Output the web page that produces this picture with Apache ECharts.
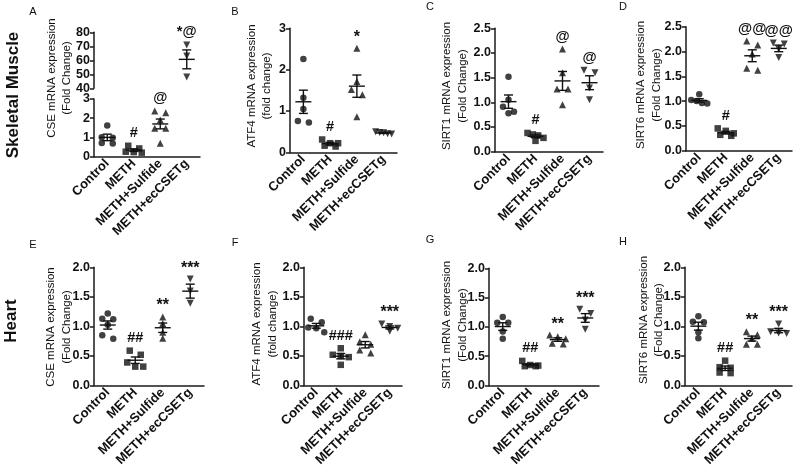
<!DOCTYPE html>
<html><head><meta charset="utf-8">
<script src="https://cdn.jsdelivr.net/npm/echarts@6/dist/echarts.min.js"></script>
<style>html,body{margin:0;padding:0;background:#fff}#c{width:797px;height:469px}</style>
</head><body><div id="c"></div>
<script>
const categories = ['Control', 'METH', 'METH+Sulfide', 'METH+ecCSETg'];

// Skeletal muscle
const A_control = [1.62, 1.0, 0.98, 0.7, 0.68];
const A_meth = [0.56, 0.42, 0.25, 0.23, 0.2];
const A_sulfide = [2.38, 2.28, 1.9, 1.47, 1.47, 0.69];
const A_eccse = [71, 63, 48];          // on the upper (40-80) segment
const A_marks = ['', '#', '@', '*@'];

const B_control = [2.26, 1.32, 1.05, 0.76, 0.72];
const B_meth = [0.31, 0.22, 0.22, 0.16, 0.14];
const B_sulfide = [2.52, 1.71, 1.52, 1.39, 0.86];
const B_eccse = [0.5, 0.48, 0.47, 0.45, 0.44];
const B_marks = ['', '#', '*', ''];

const C_control = [1.52, 1.05, 0.91, 0.81, 0.78];
const C_meth = [0.38, 0.35, 0.33, 0.28, 0.22];
const C_sulfide = [2.08, 1.6, 1.27, 1.27, 0.95];
const C_eccse = [1.65, 1.6, 1.29, 1.05];
const C_marks = ['', '#', '@', '@'];

const D_control = [1.14, 1.02, 1.0, 0.96, 0.95];
const D_meth = [0.45, 0.4, 0.35, 0.32, 0.3];
const D_sulfide = [2.21, 2.13, 1.95, 1.66, 1.62];
const D_eccse = [2.17, 2.15, 2.05, 1.88];
const D_marks = ['', '#', '@@', '@@'];

// Heart
const E_control = [1.22, 1.13, 1.12, 1.03, 0.85, 0.79];
const E_meth = [0.59, 0.52, 0.39, 0.32, 0.32];
const E_sulfide = [1.16, 1.05, 0.9, 0.8];
const E_eccse = [1.8, 1.6, 1.39];
const E_marks = ['', '##', '**', '***'];

const F_control = [1.13, 1.07, 0.98, 0.97, 0.9];
const F_meth = [0.63, 0.52, 0.5, 0.48, 0.35];
const F_sulfide = [0.86, 0.74, 0.7, 0.6, 0.55];
const F_eccse = [1.04, 1.0, 0.97, 0.92];
const F_marks = ['', '###', '', '***'];

const G_control = [1.17, 1.07, 1.07, 0.92, 0.8];
const G_meth = [0.42, 0.35, 0.34, 0.33, 0.33];
const G_sulfide = [0.86, 0.83, 0.8, 0.72, 0.71];
const G_eccse = [1.3, 1.23, 1.12, 0.96];
const G_marks = ['', '##', '**', '***'];

const H_control = [1.17, 1.08, 1.07, 0.9, 0.8];
const H_meth = [0.42, 0.31, 0.3, 0.22, 0.21];
const H_sulfide = [0.91, 0.86, 0.8, 0.7, 0.7];
const H_eccse = [1.04, 0.91, 0.89, 0.88];
const H_marks = ['', '##', '**', '***'];

// y-axis tick settings
const ticksA_low = {min: 0, max: 3, interval: 1, dec: 0};
const ticksA_up = {min: 40, max: 80, interval: 10, dec: 0};
const ticksB = {min: 0, max: 3, interval: 1, dec: 0};
const ticksCD = {min: 0, max: 2.5, interval: 0.5, dec: 1};
const ticksEH = {min: 0, max: 2, interval: 0.5, dec: 1};

const FONT = '"Liberation Sans", Arial, Helvetica, sans-serif';
const INK = '#111';

const panels = [
  {letter: 'A', groups: [A_control, A_meth, A_sulfide, null], marks: A_marks, ticks: ticksA_low,
   upper: {groups: [null, null, null, A_eccse], ticks: ticksA_up, top: 32.3, height: 56},
   box: {left: 94, width: 106, top: 99, height: 57.5},
   title: ['CSE mRNA expression', '(Fold Change)'], tpos: [59.5, 78], lpos: [33, 12]},
  {letter: 'B', groups: [B_control, B_meth, B_sulfide, B_eccse], marks: B_marks, ticks: ticksB,
   box: {left: 290, width: 107, top: 28.3, height: 124},
   title: ['ATF4 mRNA expression', '(fold change)'], tpos: [259.5, 86], lpos: [235, 12]},
  {letter: 'C', groups: [C_control, C_meth, C_sulfide, C_eccse], marks: C_marks, ticks: ticksCD,
   box: {left: 495, width: 108, top: 28.3, height: 123.4},
   title: ['SIRT1 mRNA expression', '(Fold Change)'], tpos: [455, 86], lpos: [430, 7]},
  {letter: 'D', groups: [D_control, D_meth, D_sulfide, D_eccse], marks: D_marks, ticks: ticksCD,
   box: {left: 686, width: 106, top: 26.7, height: 124},
   title: ['SIRT6 mRNA expression', '(Fold Change)'], tpos: [649, 85], lpos: [623, 7]},
  {letter: 'E', groups: [E_control, E_meth, E_sulfide, E_eccse], marks: E_marks, ticks: ticksEH,
   box: {left: 94, width: 110, top: 267.3, height: 123.4},
   title: ['CSE mRNA expression', '(Fold Change)'], tpos: [59, 327], lpos: [33, 245]},
  {letter: 'F', groups: [F_control, F_meth, F_sulfide, F_eccse], marks: F_marks, ticks: ticksEH,
   box: {left: 304, width: 98, top: 267.3, height: 123.4},
   title: ['ATF4 mRNA expression', '(fold change)'], tpos: [265, 324], lpos: [235, 243]},
  {letter: 'G', groups: [G_control, G_meth, G_sulfide, G_eccse], marks: G_marks, ticks: ticksEH,
   box: {left: 489, width: 110, top: 268.3, height: 123.4},
   title: ['SIRT1 mRNA expression', '(Fold Change)'], tpos: [455, 325], lpos: [430, 240]},
  {letter: 'H', groups: [H_control, H_meth, H_sulfide, H_eccse], marks: H_marks, ticks: ticksEH,
   box: {left: 685, width: 107, top: 267.3, height: 123.4},
   title: ['SIRT6 mRNA expression', '(Fold Change)'], tpos: [651.5, 320], lpos: [623, 242]}
];

const symbols = [
  {symbol: 'circle', size: 6.5, rot: 0},
  {symbol: 'rect', size: 6.5, rot: 0},
  {symbol: 'triangle', size: 7, rot: 0},
  {symbol: 'triangle', size: 7, rot: 180}
];

function meanSem(v) {
  const n = v.length;
  const m = v.reduce((a, b) => a + b, 0) / n;
  const sd = Math.sqrt(v.reduce((a, b) => a + (b - m) * (b - m), 0) / (n - 1));
  return [m, sd / Math.sqrt(n)];
}

function swarm(vals, ppu) {
  const thr = 5.5, step = 11, maxSpread = 16;
  const idx = vals.map((v, i) => i).sort((a, b) => vals[b] - vals[a]);
  const rows = [];
  idx.forEach(i => {
    const r = rows[rows.length - 1];
    if (r && (vals[r[0]] - vals[i]) * ppu < thr) r.push(i); else rows.push([i]);
  });
  const off = new Array(vals.length).fill(0);
  rows.forEach(r => {
    const n = r.length;
    const s = n > 1 ? Math.min(step, maxSpread / (n - 1)) : 0;
    r.forEach((i, k) => { off[i] = (k - (n - 1) / 2) * s; });
  });
  return off;
}

const grids = [], xAxes = [], yAxes = [], series = [], graphics = [];
const axisStyle = {color: '#1a1a1a', width: 1.5};

function addGrid(box, ticks, showX) {
  const gi = grids.length;
  grids.push({left: box.left, top: box.top, width: box.width, height: box.height, containLabel: false});
  xAxes.push({
    type: 'category', gridIndex: gi, data: categories, boundaryGap: true, show: showX,
    axisLine: {show: showX, lineStyle: axisStyle}, axisTick: {show: false},
    axisLabel: {show: showX, rotate: 45, interval: 0, fontSize: 13, fontWeight: 'bold', color: INK, margin: 5, fontFamily: FONT},
    splitLine: {show: false}
  });
  yAxes.push({
    type: 'value', gridIndex: gi, min: ticks.min, max: ticks.max, interval: ticks.interval,
    axisLine: {show: true, lineStyle: axisStyle},
    axisTick: {show: true, length: 4, lineStyle: axisStyle},
    axisLabel: {fontSize: 12.5, fontWeight: 'bold', color: INK, margin: 4, fontFamily: FONT,
      formatter: v => Number(v).toFixed(ticks.dec)},
    splitLine: {show: false}
  });
  return gi;
}

function addData(gi, groups, marks, ticks, height) {
  const ppu = height / (ticks.max - ticks.min);
  const stats = [];
  groups.forEach((vals, i) => {
    if (!vals) return;
    const off = swarm(vals, ppu);
    const sy = symbols[i];
    series.push({
      type: 'scatter', xAxisIndex: gi, yAxisIndex: gi, symbol: sy.symbol, symbolSize: sy.size,
      symbolRotate: sy.rot, itemStyle: {color: INK}, silent: true, z: 3,
      data: vals.map((v, k) => ({value: [i, v], symbolOffset: [off[k], 0]}))
    });
    const [m, s] = meanSem(vals);
    const top = Math.max(Math.max.apply(null, vals), m + s);
    stats.push([i, m, s, top, marks ? marks[i] : '']);
  });
  series.push({
    type: 'custom', xAxisIndex: gi, yAxisIndex: gi, silent: true, z: 4,
    data: stats.map(d => [d[0], d[1], d[2]]),
    renderItem: function (params, api) {
      const x = api.value(0), m = api.value(1), s = api.value(2);
      const pm = api.coord([x, m]), pt = api.coord([x, m + s]), pb = api.coord([x, m - s]);
      const st = {stroke: INK, lineWidth: 1.4};
      return {type: 'group', children: [
        {type: 'line', shape: {x1: pm[0] - 8, y1: pm[1], x2: pm[0] + 8, y2: pm[1]}, style: st},
        {type: 'line', shape: {x1: pm[0], y1: pt[1], x2: pm[0], y2: pb[1]}, style: st},
        {type: 'line', shape: {x1: pm[0] - 4.5, y1: pt[1], x2: pm[0] + 4.5, y2: pt[1]}, style: st},
        {type: 'line', shape: {x1: pm[0] - 4.5, y1: pb[1], x2: pm[0] + 4.5, y2: pb[1]}, style: st}
      ]};
    }
  });
  const marksData = stats.filter(d => d[4]).map(d => [d[0], d[3], d[4]]);
  if (marksData.length) {
    series.push({
      type: 'custom', xAxisIndex: gi, yAxisIndex: gi, silent: true, z: 5,
      data: marksData.map(d => [d[0], d[1]]),
      renderItem: function (params, api) {
        const txt = marksData[params.dataIndex][2];
        const p = api.coord([api.value(0), api.value(1)]);
        const star = txt.indexOf('*') >= 0 && txt.indexOf('@') < 0;
        return {type: 'text', x: p[0], y: p[1] - (star ? 3 : 5), style: {
          text: txt, fill: INK, fontSize: star ? 16 : 14.5, fontWeight: 'bold', fontFamily: FONT,
          align: 'center', verticalAlign: 'bottom', textAlign: 'center', textVerticalAlign: 'bottom'
        }};
      }
    });
  }
}

panels.forEach(p => {
  const gi = addGrid(p.box, p.ticks, true);
  addData(gi, p.groups, p.marks, p.ticks, p.box.height);
  if (p.upper) {
    const ub = {left: p.box.left, width: p.box.width, top: p.upper.top, height: p.upper.height};
    const gu = addGrid(ub, p.upper.ticks, false);
    const upMarks = ['', '', '', p.marks[3]];
    addData(gu, p.upper.groups, upMarks, p.upper.ticks, ub.height);
  }
  graphics.push({type: 'text', x: p.tpos[0], y: p.tpos[1], rotation: Math.PI / 2, silent: true,
    style: {text: p.title.join('\n'), fill: INK, fontSize: 11.5, fontFamily: FONT, lineHeight: 15.5,
      align: 'center', verticalAlign: 'middle', textAlign: 'center', textVerticalAlign: 'middle'}});
  graphics.push({type: 'text', x: p.lpos[0], y: p.lpos[1], silent: true,
    style: {text: p.letter, fill: INK, fontSize: 11, fontFamily: FONT,
      align: 'center', verticalAlign: 'middle', textAlign: 'center', textVerticalAlign: 'middle'}});
});

graphics.push({type: 'text', x: 13, y: 95, rotation: Math.PI / 2, silent: true,
  style: {text: 'Skeletal Muscle', fill: INK, fontSize: 17, fontWeight: 'bold', fontFamily: FONT,
    align: 'center', verticalAlign: 'middle', textAlign: 'center', textVerticalAlign: 'middle'}});
graphics.push({type: 'text', x: 11, y: 321, rotation: Math.PI / 2, silent: true,
  style: {text: 'Heart', fill: INK, fontSize: 17, fontWeight: 'bold', fontFamily: FONT,
    align: 'center', verticalAlign: 'middle', textAlign: 'center', textVerticalAlign: 'middle'}});

const chart = echarts.init(document.getElementById('c'), null, {renderer: 'canvas'});
chart.setOption({
  animation: false,
  backgroundColor: '#fff',
  textStyle: {fontFamily: FONT},
  grid: grids, xAxis: xAxes, yAxis: yAxes, series: series, graphic: graphics
});
</script>
</body></html>
